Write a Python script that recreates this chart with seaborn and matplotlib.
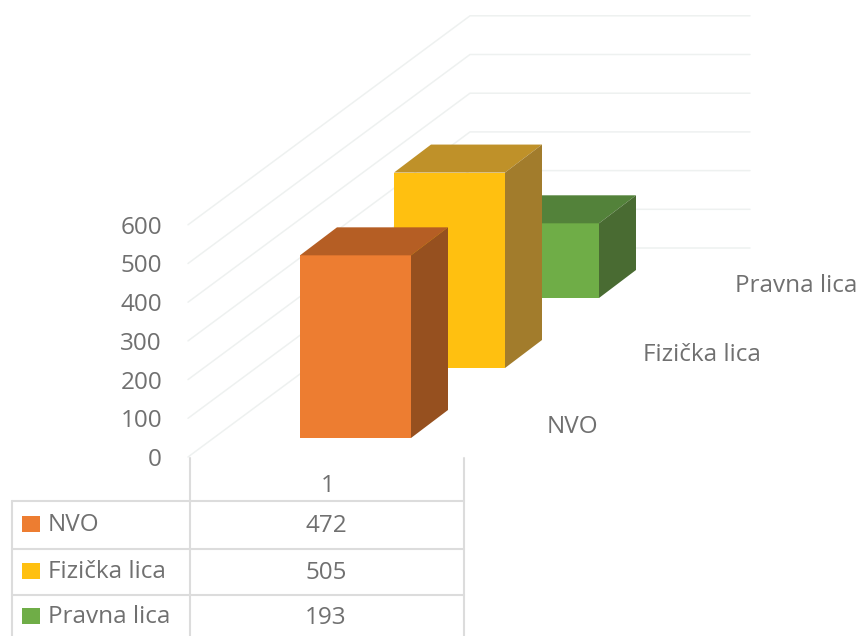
"""
3D-look bar chart with a data table underneath (Excel style)
"""

import matplotlib
matplotlib.use("Agg")
import matplotlib.pyplot as plt
import pandas as pd
import seaborn as sns

# data
series_names = ["NVO", "Fizička lica", "Pravna lica"]
series_values = [472, 505, 193]
axis_ticks = [0, 100, 200, 300, 400, 500, 600]
category_label = "1"

# colours: front, top, side
front_colors = ["#ED7D31", "#FFC010", "#6FAD47"]
top_colors = ["#B55E24", "#BF9129", "#53823A"]
side_colors = ["#96501F", "#A27C2C", "#496B32"]
text_color = "#707070"
grid_color = "#EEF1F0"
table_color = "#DCDCDC"

# layout in pixels of the 868x636 picture
PX_PER_UNIT = 0.387
ZERO_PX = 457
BAR_W = 111
DEPTH_X, DEPTH_Y = 37, 28
FONT = 17.5
bar_left = [300, 394, 488]
bar_floor = [438, 368, 298]
name_pos = [(547, 427), (643, 355), (735, 286)]


def val(px):
    # picture row -> value on the y axis
    return (ZERO_PX - px) / PX_PER_UNIT


sns.set_theme(style="white")
plt.rcParams["font.family"] = ["Open Sans", "DejaVu Sans"]

fig = plt.figure(figsize=(8.68, 6.36), dpi=100, facecolor="white")
ax = fig.add_axes([0, 0, 1, 1])
ax.set_xlim(0, 868)
ax.set_ylim(val(636), val(0))
ax.set_axis_off()

# back wall gridlines
for t in axis_ticks:
    y0 = t
    y1 = t + val(ZERO_PX - 209)
    ax.plot([188, 470, 750], [y0, y1, y1], color=grid_color, lw=1.1, zorder=1)
    ax.text(162, t - 3 / PX_PER_UNIT, str(t), ha="right", va="center", fontsize=FONT, color=text_color)

# bars back to front, top and side faces follow the bar seaborn has drawn
depth_val = DEPTH_Y / PX_PER_UNIT
for i in [2, 1, 0]:
    df = pd.DataFrame({"x": [bar_left[i] + BAR_W / 2], "y": [series_values[i]]})
    n_before = len(ax.patches)
    z = 3 + (2 - i) * 3
    sns.barplot(data=df, x="x", y="y", native_scale=True, width=BAR_W, gap=0,
                bottom=val(bar_floor[i]), color=front_colors[i], saturation=1,
                linewidth=0, ax=ax, zorder=z)
    bar = ax.patches[n_before]
    x0, x1 = bar.get_x(), bar.get_x() + bar.get_width()
    y0, y1 = bar.get_y(), bar.get_y() + bar.get_height()
    ax.fill([x0, x0 + DEPTH_X, x1 + DEPTH_X, x1],
            [y1, y1 + depth_val, y1 + depth_val, y1],
            color=top_colors[i], lw=0, zorder=z)
    ax.fill([x1, x1 + DEPTH_X, x1 + DEPTH_X, x1],
            [y0, y0 + depth_val, y1 + depth_val, y1],
            color=side_colors[i], lw=0, zorder=z)
    ax.text(name_pos[i][0], val(name_pos[i][1]), series_names[i], ha="left", va="center",
            fontsize=FONT, color=text_color)

# seaborn resets the limits and labels
ax.set_xlim(0, 868)
ax.set_ylim(val(636), val(0))
ax.set_axis_off()

# data table
for px in [501, 549, 595]:
    ax.plot([12, 464], [val(px), val(px)], color=table_color, lw=1.5, zorder=2)
ax.plot([12, 12], [val(501), val(636)], color=table_color, lw=1.5, zorder=2)
ax.plot([190, 190], [val(458), val(636)], color=table_color, lw=1.5, zorder=2)
ax.plot([464, 464], [val(458), val(636)], color=table_color, lw=1.5, zorder=2)

ax.text(328, val(486), category_label, ha="center", va="center", fontsize=FONT, color=text_color)
row_centers = [524, 571, 616]
for name, value, color, py in zip(series_names, series_values, front_colors, row_centers):
    ax.fill([22, 40, 40, 22], [val(py - 8), val(py - 8), val(py + 8), val(py + 8)],
            color=color, lw=0, zorder=4)
    ax.text(48, val(py + 1), name, ha="left", va="center", fontsize=FONT, color=text_color)
    ax.text(326, val(py + 2), str(value), ha="center", va="center", fontsize=FONT, color=text_color)

fig.savefig("out.png", dpi=100, facecolor="white")
